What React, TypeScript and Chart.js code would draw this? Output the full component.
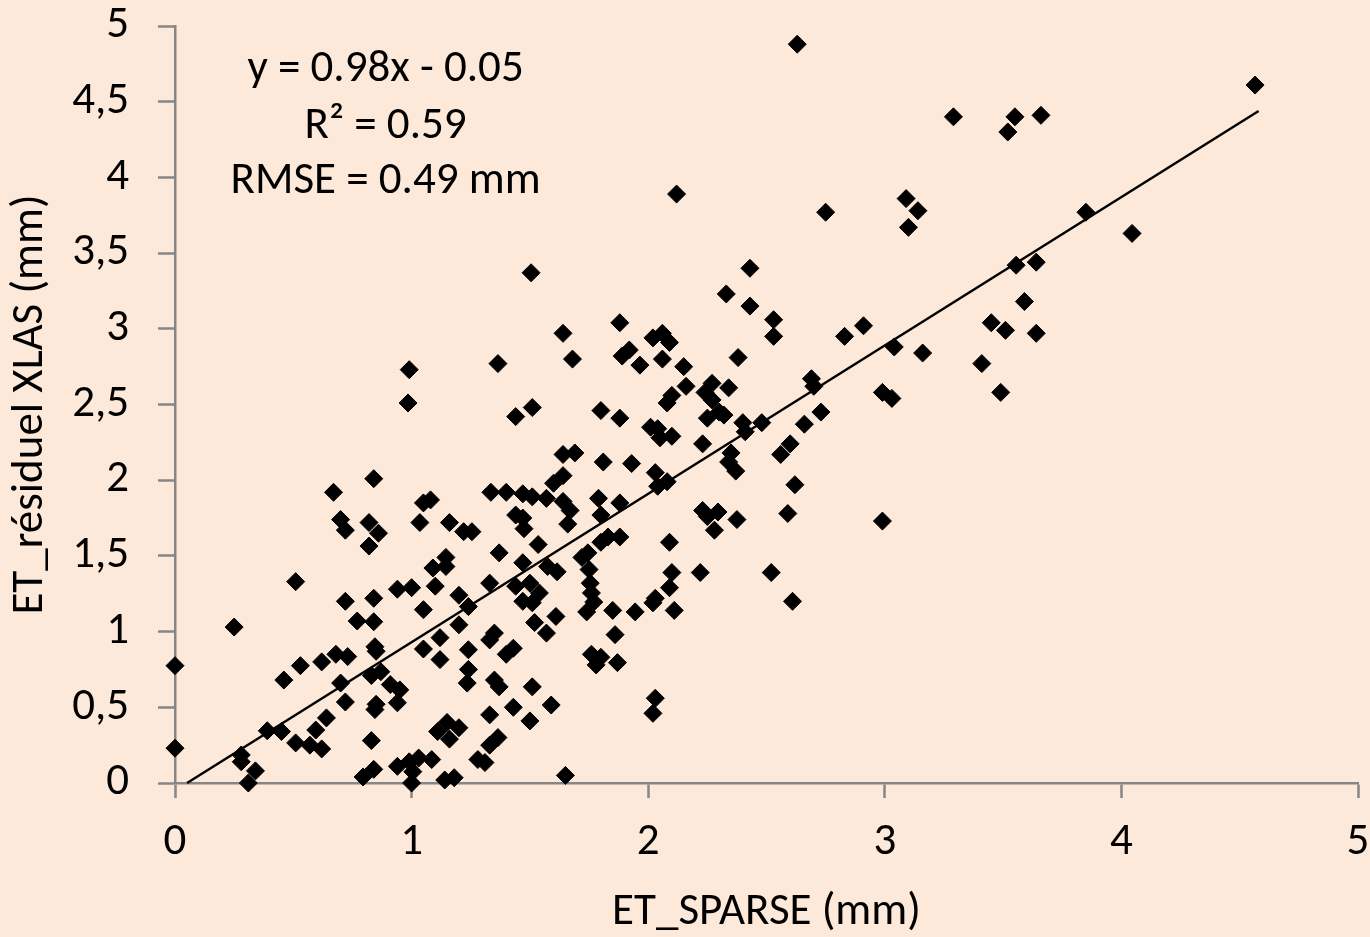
import React, { useEffect, useRef } from "react";
import { Chart, registerables } from "chart.js";

Chart.register(...registerables);

// ---- data ----
const xValues = [
  2.63, 4.565, 3.29, 3.55, 3.66, 3.52, 2.12, 2.75, 3.09, 3.14, 3.10, 3.85, 4.045, 3.555, 3.64, 1.505,
  2.43, 2.33, 2.43, 2.53, 2.53, 2.83, 2.91, 3.59, 3.45, 3.51, 3.64, 3.04, 3.16, 3.41, 2.99, 3.03,
  3.49, 2.99, 2.69, 2.70, 2.66, 2.73, 2.60, 2.56, 2.62, 2.59, 2.61, 2.52, 2.48, 2.40, 2.41, 2.38,
  2.35, 2.34, 2.37, 2.375, 2.23, 2.295, 2.25, 2.28, 2.23, 2.25, 2.30, 2.32, 2.27, 2.24, 2.27, 2.34,
  2.16, 2.10, 2.08, 2.15, 2.06, 1.965, 2.02, 2.06, 2.09, 2.01, 2.04, 2.10, 2.05, 2.03, 2.08, 2.04,
  2.09, 2.10, 2.22, 2.09, 2.02, 2.03, 2.11, 2.03, 2.02, 1.88, 1.89, 1.92, 1.64, 1.68, 1.365, 0.99,
  0.985, 1.44, 1.51, 1.80, 1.88, 1.64, 1.69, 1.81, 1.93, 1.64, 1.60, 1.335, 1.40, 1.47, 1.51, 1.57,
  1.64, 1.67, 1.66, 1.79, 1.80, 1.88, 1.05, 1.08, 1.035, 1.16, 1.22, 1.255, 1.44, 1.47, 1.475, 1.535,
  1.37, 1.47, 1.80, 1.83, 1.88, 1.745, 1.145, 0.84, 0.67, 0.70, 0.72, 0.82, 0.86, 0.82, 0.51, 0.25,
  0.0, 0.0, 0.72, 0.84, 0.94, 0.77, 0.84, 0.845, 0.85, 0.83, 0.87, 0.91, 0.95, 0.53, 0.62, 0.68,
  0.73, 0.46, 0.70, 0.72, 0.85, 0.845, 0.94, 0.39, 0.45, 0.64, 0.595, 0.51, 0.57, 0.62, 0.83, 0.28,
  0.28, 0.34, 0.31, 0.795, 0.84, 0.94, 0.99, 1.03, 1.085, 1.005, 1.0, 1.14, 1.18, 1.65, 1.575, 1.615,
  1.09, 1.145, 1.10, 1.00, 1.20, 1.24, 1.33, 1.44, 1.50, 1.47, 1.54, 1.51, 1.61, 1.52, 1.57, 1.05,
  1.20, 1.12, 1.05, 1.12, 1.24, 1.35, 1.33, 1.43, 1.40, 1.24, 1.235, 1.35, 1.37, 1.51, 1.43, 1.33,
  1.59, 1.50, 1.11, 1.15, 1.20, 1.16, 1.33, 1.365, 1.28, 1.31, 1.72, 1.75, 1.755, 1.76, 1.77, 1.74,
  1.85, 1.945, 1.86, 1.76, 1.80, 1.87, 1.78,
];

const yValues = [
  4.88, 4.61, 4.40, 4.40, 4.41, 4.30, 3.89, 3.77, 3.86, 3.78, 3.67, 3.77, 3.63, 3.42, 3.44, 3.37,
  3.40, 3.23, 3.15, 3.06, 2.95, 2.95, 3.02, 3.18, 3.04, 2.99, 2.97, 2.88, 2.84, 2.77, 2.58, 2.54,
  2.58, 1.73, 2.67, 2.62, 2.37, 2.45, 2.24, 2.17, 1.97, 1.78, 1.20, 1.39, 2.38, 2.38, 2.32, 2.81,
  2.18, 2.12, 2.06, 1.74, 1.80, 1.79, 1.76, 1.67, 2.24, 2.41, 2.45, 2.43, 2.64, 2.58, 2.53, 2.61,
  2.62, 2.56, 2.51, 2.75, 2.80, 2.76, 2.94, 2.97, 2.91, 2.35, 2.34, 2.29, 2.28, 2.05, 1.99, 1.96,
  1.59, 1.39, 1.39, 1.29, 1.19, 1.22, 1.14, 0.56, 0.46, 3.04, 2.82, 2.86, 2.97, 2.80, 2.77, 2.73,
  2.51, 2.42, 2.48, 2.46, 2.41, 2.17, 2.18, 2.12, 2.11, 2.03, 1.98, 1.92, 1.92, 1.91, 1.89, 1.88,
  1.86, 1.80, 1.71, 1.88, 1.77, 1.85, 1.85, 1.87, 1.72, 1.72, 1.66, 1.66, 1.77, 1.75, 1.68, 1.575,
  1.52, 1.455, 1.59, 1.625, 1.625, 1.52, 1.49, 2.01, 1.92, 1.74, 1.67, 1.72, 1.65, 1.565, 1.33, 1.03,
  0.775, 0.23, 1.20, 1.22, 1.28, 1.07, 1.065, 0.90, 0.87, 0.71, 0.735, 0.65, 0.615, 0.775, 0.80, 0.85,
  0.835, 0.68, 0.66, 0.535, 0.52, 0.485, 0.53, 0.345, 0.34, 0.43, 0.35, 0.265, 0.25, 0.225, 0.28, 0.185,
  0.14, 0.08, 0.0, 0.04, 0.09, 0.11, 0.14, 0.165, 0.155, 0.075, 0.0, 0.02, 0.035, 0.05, 1.43, 1.395,
  1.42, 1.43, 1.30, 1.29, 1.24, 1.165, 1.32, 1.30, 1.32, 1.20, 1.255, 1.19, 1.10, 1.06, 0.99, 1.145,
  1.045, 0.96, 0.885, 0.815, 0.88, 0.99, 0.945, 0.89, 0.85, 0.75, 0.66, 0.68, 0.635, 0.635, 0.50, 0.45,
  0.515, 0.41, 0.34, 0.40, 0.365, 0.29, 0.25, 0.30, 0.155, 0.135, 1.49, 1.41, 1.32, 1.255, 1.195, 1.13,
  1.14, 1.13, 0.98, 0.85, 0.83, 0.795, 0.78,
];

const trendSlope = 0.98;
const trendIntercept = -0.05;
const trendXEnd = 4.58;

const annotationLines = ["y = 0.98x - 0.05", "R² = 0.59", "RMSE = 0.49 mm"];
const annotationX = 0.89;
const annotationY = [4.71, 4.335, 3.97];

const xTitle = "ET_SPARSE (mm)";
const yTitle = "ET_résiduel XLAS (mm)";

const FONT_FAMILY = "Carlito, Lato, 'Open Sans', sans-serif";
const FONT_SIZE = 45;
const AXIS_GREY = "#868686";
const BG = "#FDE9D9";

const fmt = (v: number | string) => String(v).replace(".", ",");

const annotationPlugin = {
  id: "equationText",
  afterDraw(chart: any) {
    const { ctx } = chart;
    const xs = chart.scales.x;
    const ys = chart.scales.y;
    ctx.save();
    ctx.font = `${FONT_SIZE}px ${FONT_FAMILY}`;
    ctx.fillStyle = "#000";
    ctx.textAlign = "center";
    ctx.textBaseline = "middle";
    annotationLines.forEach((t, i) => {
      ctx.fillText(t, xs.getPixelForValue(annotationX), ys.getPixelForValue(annotationY[i]));
    });
    ctx.restore();
  },
};

export default function App() {
  const ref = useRef<HTMLCanvasElement | null>(null);

  useEffect(() => {
    if (!ref.current) return;
    const points = xValues.map((x, i) => ({ x, y: yValues[i] }));
    const x0 = -trendIntercept / trendSlope;
    const trend = [
      { x: x0, y: 0 },
      { x: trendXEnd, y: trendSlope * trendXEnd + trendIntercept },
    ];
    const font = { family: FONT_FAMILY, size: FONT_SIZE };
    const titleFont = { family: FONT_FAMILY, size: FONT_SIZE, lineHeight: 1.1 };
    const chart = new Chart(ref.current, {
      type: "scatter",
      data: {
        datasets: [
          {
            type: "line",
            data: trend,
            borderColor: "#000",
            borderWidth: 2.5,
            pointRadius: 0,
            fill: false,
            clip: false,
          } as any,
          {
            data: points,
            pointStyle: "rectRot",
            pointRadius: 9,
            backgroundColor: "#000",
            borderColor: "#000",
            borderWidth: 1,
            clip: false,
          } as any,
        ],
      },
      options: {
        animation: false,
        responsive: false,
        devicePixelRatio: 1,
        layout: { padding: { top: 26, right: 12, left: 0, bottom: 0 } },
        plugins: { legend: { display: false }, tooltip: { enabled: false } },
        scales: {
          x: {
            type: "linear",
            min: 0,
            max: 5,
            ticks: { stepSize: 1, font, color: "#000", padding: 18, callback: (v: any) => fmt(v) },
            grid: { drawOnChartArea: false, drawTicks: true, tickLength: 15, tickColor: AXIS_GREY, tickWidth: 2.5 },
            border: { display: true, color: AXIS_GREY, width: 2.5 },
            title: { display: true, text: xTitle, font: titleFont, color: "#000", padding: { top: 0, bottom: 0 } },
            afterFit: (s: any) => {
              s.height = 154;
              s.paddingLeft = 0;
              s.paddingRight = 0;
            },
          },
          y: {
            type: "linear",
            min: 0,
            max: 5,
            ticks: { stepSize: 0.5, font, color: "#000", padding: 29, callback: (v: any) => fmt(v) },
            grid: { drawOnChartArea: false, drawTicks: true, tickLength: 17, tickColor: AXIS_GREY, tickWidth: 2.5 },
            border: { display: true, color: AXIS_GREY, width: 2.5 },
            title: { display: true, text: yTitle, font: titleFont, color: "#000", padding: { top: 6, bottom: 0 } },
            afterFit: (s: any) => {
              s.width = 175;
              s.paddingTop = 0;
              s.paddingBottom = 0;
            },
          },
        },
      } as any,
      plugins: [annotationPlugin],
    });
    return () => chart.destroy();
  }, []);

  return (
    <div style={{ position: "fixed", left: 0, top: 0, width: 1370, height: 937, background: BG }}>
      <canvas ref={ref} width={1370} height={937} style={{ display: "block" }} />
    </div>
  );
}
